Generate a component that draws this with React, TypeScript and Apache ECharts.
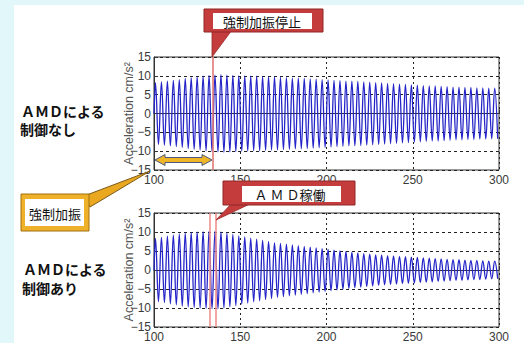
import React, { useEffect, useRef } from "react";
import * as echarts from "echarts";

// Time axis (s)
const X_MIN = 100;
const X_MAX = 300;
const X_TICK = 50;
const Y_MIN = -15;
const Y_MAX = 15;
const Y_TICK = 5;
const PERIOD = 3.45;
// Peak amplitude of each cycle (cm/s²)
const topAmp = [
  8.2, 8.4, 8.6, 8.8, 9.0, 9.3, 9.5, 9.7, 9.9, 10.1,
  10.2, 10.3, 10.2, 10.1, 10.0, 10.0, 9.9, 9.9, 9.8, 9.7,
  9.7, 9.6, 9.5, 9.4, 9.4, 9.3, 9.2, 9.1, 9.0, 8.9,
  8.8, 8.7, 8.6, 8.6, 8.5, 8.4, 8.3, 8.2, 8.1, 8.0,
  7.9, 7.8, 7.7, 7.6, 7.5, 7.4, 7.3, 7.3, 7.2, 7.1,
  7.0, 7.0, 6.9, 6.9, 6.8, 6.8, 6.7, 6.7,
];
const botAmp = [
  8.3, 8.6, 8.9, 9.2, 9.5, 9.7, 9.9, 10.0, 10.1, 10.2,
  10.2, 10.0, 9.7, 9.4, 9.0, 8.7, 8.4, 8.1, 7.8, 7.5,
  7.2, 7.0, 6.8, 6.6, 6.4, 6.2, 6.0, 5.8, 5.6, 5.4,
  5.2, 5.0, 4.8, 4.6, 4.5, 4.3, 4.2, 4.0, 3.9, 3.8,
  3.7, 3.6, 3.5, 3.4, 3.3, 3.2, 3.1, 3.0, 2.9, 2.8,
  2.7, 2.7, 2.6, 2.5, 2.5, 2.4, 2.3, 2.3,
];
// Event times (s)
const forceStopTime = 134;
const amdOnTimes = [132.5, 136];

const labels = {
  title1a: "ＡＭＤによる",
  title1b: "制御なし",
  title2a: "ＡＭＤによる",
  title2b: "制御あり",
  stop: "強制加振停止",
  amd: "Ａ Ｍ Ｄ稼働",
  force: "強制加振",
  yName: "Acceleration cm/s²",
};

function wave(amps: number[]) {
  const pts: number[][] = [[X_MIN, 0]];
  amps.forEach((a, i) => {
    const t = X_MIN + i * PERIOD;
    pts.push([t + PERIOD * 0.25, a]);
    pts.push([t + PERIOD * 0.75, -a]);
  });
  return pts;
}

const NUM_FONT = "Liberation Sans, Arial, sans-serif";
const JP_FONT = "Noto Sans CJK JP, sans-serif";

export default function App() {
  const ref = useRef<HTMLDivElement>(null);
  useEffect(() => {
    if (!ref.current) return;
    const chart = echarts.init(ref.current, null, { renderer: "svg" });
    const grids = [
      { left: 154, top: 57, width: 345, height: 113 },
      { left: 154, top: 213, width: 345, height: 114 },
    ];
    const xAxis = [0, 1].map((g) => ({
      type: "value",
      gridIndex: g,
      min: X_MIN,
      max: X_MAX,
      interval: X_TICK,
      axisLine: { show: true, lineStyle: { color: "#333", width: 1 } },
      axisTick: { show: true, inside: true, length: 4, lineStyle: { color: "#333" } },
      axisLabel: { color: "#3a3a3a", fontSize: 12, fontFamily: NUM_FONT, margin: 4 },
      splitLine: { show: true, lineStyle: { color: "#222", type: [2, 3], width: 1 } },
    }));
    const yAxis = [0, 1].map((g) => ({
      type: "value",
      gridIndex: g,
      min: Y_MIN,
      max: Y_MAX,
      interval: Y_TICK,
      name: labels.yName,
      nameLocation: "middle",
      nameGap: 19,
      nameRotate: 90,
      nameMoveOverlap: false,
      nameTextStyle: { color: "#555", fontSize: 12.5, fontFamily: NUM_FONT },
      axisLine: { show: true, lineStyle: { color: "#333", width: 1 } },
      axisTick: { show: true, inside: true, length: 4, lineStyle: { color: "#333" } },
      axisLabel: {
        color: "#3a3a3a",
        fontSize: 12,
        fontFamily: NUM_FONT,
        margin: 3,
        formatter: (v: number) => String(v).replace("-", "\u2212"),
      },
      splitLine: { show: true, lineStyle: { color: "#222", type: [3, 3], width: 1 } },
    }));
    const lineCommon = {
      type: "line",
      showSymbol: false,
      smooth: 0.4,
      lineStyle: { color: "#2424c8", width: 1.3 },
      silent: true,
    };
    chart.setOption({
      animation: false,
      backgroundColor: "#ffffff",
      grid: grids.map((g) => ({ ...g, show: true, borderColor: "#333", borderWidth: 1, backgroundColor: "transparent" })),
      xAxis,
      yAxis,
      series: [
        {
          ...lineCommon,
          xAxisIndex: 0,
          yAxisIndex: 0,
          data: wave(topAmp),
          markLine: {
            silent: true,
            symbol: "none",
            label: { show: false },
            lineStyle: { color: "#e07878", width: 1.6, type: "solid" },
            data: [{ xAxis: forceStopTime }],
          },
        },
        {
          ...lineCommon,
          xAxisIndex: 1,
          yAxisIndex: 1,
          data: wave(botAmp),
          markLine: {
            silent: true,
            symbol: "none",
            label: { show: false },
            lineStyle: { color: "#f09090", width: 1.6, type: "solid" },
            data: amdOnTimes.map((t) => ({ xAxis: t })),
          },
        },
      ],
      graphic: [
        // background bands
        { type: "rect", z: -10, silent: true, shape: { x: 0, y: 0, width: 524, height: 5 }, style: { fill: "#e2f7fa" } },
        { type: "rect", z: -10, silent: true, shape: { x: 0, y: 0, width: 14, height: 343 }, style: { fill: "#e2f7fa" } },
        // side titles
        { type: "text", z: 10, x: 21, y: 111, style: { text: labels.title1a, font: `bold 14px ${JP_FONT}`, fill: "#111", verticalAlign: "middle" } },
        { type: "text", z: 10, x: 20, y: 129, style: { text: labels.title1b, font: `bold 14px ${JP_FONT}`, fill: "#111", verticalAlign: "middle" } },
        { type: "text", z: 10, x: 23, y: 269, style: { text: labels.title2a, font: `bold 14px ${JP_FONT}`, fill: "#111", verticalAlign: "middle" } },
        { type: "text", z: 10, x: 22, y: 288, style: { text: labels.title2b, font: `bold 14px ${JP_FONT}`, fill: "#111", verticalAlign: "middle" } },
        // top callout: 強制加振停止
        { type: "polygon", z: 10, shape: { points: [[212, 30], [232, 30], [212, 57]] }, style: { fill: "#c43c3c", stroke: "#9a2a2a", lineWidth: 0.8 } },
        { type: "rect", z: 10, shape: { x: 204, y: 9, width: 119, height: 23 }, style: { fill: "#c43c3c", stroke: "#8e2626", lineWidth: 1 } },
        { type: "rect", z: 11, shape: { x: 213, y: 13, width: 99, height: 16 }, style: { fill: "#ffffff" } },
        { type: "text", z: 12, x: 262, y: 21, style: { text: labels.stop, font: `13px ${JP_FONT}`, fill: "#111", align: "center", verticalAlign: "middle" } },
        // bottom callout: AMD稼働
        { type: "polygon", z: 10, shape: { points: [[232, 203], [252, 203], [216, 220]] }, style: { fill: "#c43c3c", stroke: "#9a2a2a", lineWidth: 0.8 } },
        { type: "rect", z: 10, shape: { x: 223, y: 181, width: 132, height: 24 }, style: { fill: "#c43c3c", stroke: "#8e2626", lineWidth: 1 } },
        { type: "rect", z: 11, shape: { x: 242, y: 186, width: 99, height: 16 }, style: { fill: "#ffffff" } },
        { type: "text", z: 12, x: 290, y: 194, style: { text: labels.amd, font: `13px ${JP_FONT}`, fill: "#111", align: "center", verticalAlign: "middle" } },
        // force callout: 強制加振
        { type: "polygon", z: 10, shape: { points: [[84, 196], [90, 207], [150, 171]] }, style: { fill: "#eaa820", stroke: "#7a5a1a", lineWidth: 1 } },
        { type: "rect", z: 10, shape: { x: 21, y: 194, width: 68, height: 37 }, style: { fill: "#efb02a", stroke: "#a0700e", lineWidth: 1 } },
        { type: "rect", z: 11, shape: { x: 25, y: 199, width: 59, height: 27 }, style: { fill: "#ffffff" } },
        { type: "text", z: 12, x: 55, y: 213, style: { text: labels.force, font: `13px ${JP_FONT}`, fill: "#111", align: "center", verticalAlign: "middle" } },
        // double arrow (forced excitation span)
        {
          type: "polygon",
          z: 10,
          shape: {
            points: [
              [155, 160], [165, 154.5], [165, 157.5], [202, 157.5], [202, 154.5],
              [212, 160], [202, 165.5], [202, 162.5], [165, 162.5], [165, 165.5],
            ],
          },
          style: { fill: "#f0b429", stroke: "#4a5a7a", lineWidth: 1 },
        },
      ],
    });
    return () => chart.dispose();
  }, []);
  return (
    <div
      ref={ref}
      style={{ position: "fixed", left: 0, top: 0, width: 524, height: 343, background: "#fff" }}
    />
  );
}
